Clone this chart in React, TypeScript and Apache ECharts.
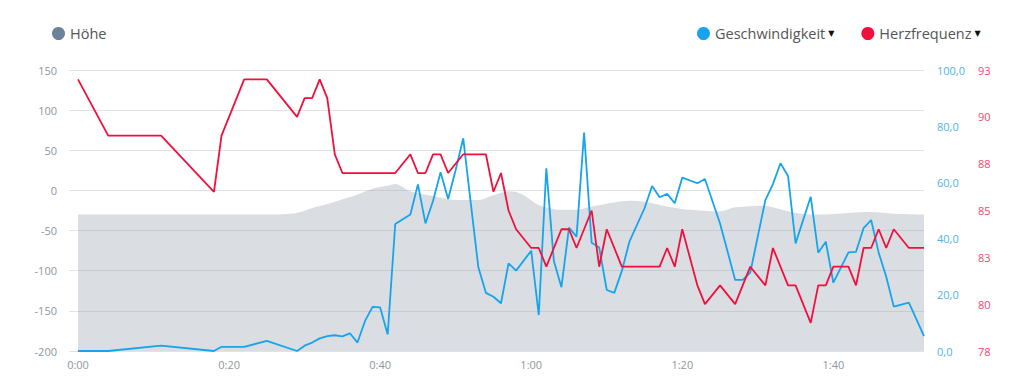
import React, { useEffect, useRef } from "react";
import * as echarts from "echarts";

// Time in minutes
const hoeheMinutes = [0, 25, 29, 31, 33, 35, 37, 39, 41, 42, 44, 47, 50, 53, 55, 57, 58, 59, 61, 64, 66, 68, 71, 73, 75, 78, 80, 85, 87, 91, 92, 95, 98, 102, 105, 108, 112];
const hoeheValues = [-30, -30, -28, -22, -17, -11, -5, 2, 6, 8, -1, -7, -12, -12, -6, -1, -2, -6, -18, -24, -24, -20, -15, -13, -14, -20, -23, -26, -21, -19, -21, -28, -30, -28, -27, -29, -30];

const speedMinutes = [0, 4, 11, 18, 19, 22, 25, 29, 30, 31, 32, 33, 34, 35, 36, 37, 38, 39, 40, 41, 42, 44, 45, 46, 47, 48, 49, 50, 51, 52, 53, 54, 55, 56, 57, 58, 60, 61, 62, 63, 64, 65, 66, 67, 68, 69, 70, 71, 72, 73, 75, 76, 77, 78, 79, 80, 82, 83, 85, 87, 88, 89, 91, 92, 93, 94, 95, 97, 98, 99, 100, 102, 103, 104, 105, 106, 107, 108, 110, 112];
const speedValues = [0, 0, 1.9, 0, 1.5, 1.5, 3.6, 0, 1.9, 3, 4.5, 5.3, 5.6, 5.2, 6.3, 3, 10.7, 15.7, 15.5, 5.9, 45.2, 48.6, 59.3, 45.4, 53.4, 63.6, 54.1, 64.4, 75.7, 52.6, 29.8, 20.7, 19.3, 17, 31.2, 28.6, 35.7, 12.8, 65, 32, 22.7, 43.9, 40.7, 77.7, 38.5, 36.8, 21.7, 20.7, 28.5, 38.9, 50.8, 58.7, 54.7, 55.9, 52.6, 61.7, 59.7, 61.2, 45.4, 25.3, 25.3, 27.9, 53.7, 59.4, 66.8, 62.3, 38.3, 54.9, 35, 38.9, 24.3, 35.1, 35.3, 43.7, 46.6, 35, 26.4, 15.8, 17.2, 5.3];

const hrMinutes = [0, 4, 11, 18, 19, 22, 25, 29, 30, 31, 32, 33, 34, 35, 42, 44, 45, 46, 47, 48, 49, 51, 54, 55, 56, 57, 58, 60, 61, 62, 64, 65, 66, 68, 69, 70, 72, 77, 78, 79, 80, 82, 83, 85, 87, 89, 91, 92, 94, 95, 97, 98, 99, 100, 102, 103, 104, 105, 106, 107, 108, 110, 112];
const hrValues = [92, 89, 89, 86, 89, 92, 92, 90, 91, 91, 92, 91, 88, 87, 87, 88, 87, 87, 88, 88, 87, 88, 88, 86, 87, 85, 84, 83, 83, 82, 84, 84, 83, 85, 82, 84, 82, 82, 83, 82, 84, 81, 80, 81, 80, 82, 81, 83, 81, 81, 79, 81, 81, 82, 82, 81, 83, 83, 84, 83, 84, 83, 83];

const seriesNames = ["Höhe", "Geschwindigkeit", "Herzfrequenz"];

const zip = (xs: number[], ys: number[]) => xs.map((x, i) => [x, ys[i]]);

const fmtTime = (v: number) => {
  const h = Math.floor(v / 60);
  const m = Math.round(v - h * 60);
  return `${h}:${String(m).padStart(2, "0")}`;
};

export default function App() {
  const ref = useRef<HTMLDivElement>(null);
  useEffect(() => {
    if (!ref.current) return;
    const chart = echarts.init(ref.current, null, { renderer: "svg" });
    const font = "Open Sans";
    chart.setOption({
      animation: false,
      textStyle: { fontFamily: font },
      grid: { left: 78, right: 100, top: 70, bottom: 34 },
      legend: [
        {
          data: [seriesNames[0]],
          left: 52,
          top: 26,
          padding: 0,
          icon: "circle",
          itemWidth: 13,
          itemHeight: 13,
          itemGap: 27,
          textStyle: { fontSize: 14.5, color: "#555", fontFamily: font },
        },
        {
          data: [seriesNames[1], seriesNames[2]],
          left: 697,
          top: 26,
          padding: 0,
          icon: "circle",
          itemWidth: 13,
          itemHeight: 13,
          itemGap: 27,
          formatter: (name: string) => `${name}{t|▼}`,
          textStyle: {
            fontSize: 14.5,
            color: "#555",
            fontFamily: font,
            rich: { t: { fontSize: 8, color: "#111", fontFamily: "DejaVu Sans", padding: [0, 0, 0, 3] } },
          },
        },
      ],
      xAxis: {
        type: "value",
        min: 0,
        max: 112,
        interval: 20,
        axisLine: { show: false },
        axisTick: { show: false },
        splitLine: { show: false },
        axisLabel: {
          color: "#8f969c",
          fontSize: 11,
          fontFamily: font,
          margin: 8,
          showMaxLabel: false,
          formatter: (v: number) => fmtTime(v),
        },
      },
      yAxis: [
        {
          type: "value",
          position: "left",
          min: -200,
          max: 150,
          interval: 50,
          axisLine: { show: false },
          axisTick: { show: true, length: 9, lineStyle: { color: "#e3e3e3" } },
          splitLine: { show: true, lineStyle: { color: "#e3e3e3", width: 1 } },
          axisLabel: { color: "#8b96a0", fontSize: 11, fontFamily: font, margin: 21 },
        },
        {
          type: "value",
          position: "right",
          min: 0,
          max: 100,
          interval: 20,
          axisLine: { show: false },
          axisTick: { show: false },
          splitLine: { show: false },
          axisLabel: {
            color: "#4fb4ec",
            fontSize: 11,
            fontFamily: font,
            margin: 13,
            formatter: (v: number) => v.toFixed(1).replace(".", ","),
          },
        },
        {
          type: "value",
          position: "right",
          offset: 41,
          min: 77.5,
          max: 92.5,
          interval: 2.5,
          axisLine: { show: false },
          axisTick: { show: false },
          splitLine: { show: false },
          axisLabel: {
            color: "#f2496b",
            fontSize: 11,
            fontFamily: font,
            margin: 13,
            formatter: (v: number) => v.toFixed(0),
          },
        },
      ],
      series: [
        {
          name: seriesNames[0],
          type: "line",
          yAxisIndex: 0,
          data: zip(hoeheMinutes, hoeheValues),
          symbol: "none",
          smooth: 0.3,
          itemStyle: { color: "#6c8298" },
          lineStyle: { width: 0 },
          areaStyle: { color: "rgba(142,155,171,0.33)", opacity: 1, origin: "start" },
          silent: true,
        },
        {
          name: seriesNames[1],
          type: "line",
          yAxisIndex: 1,
          data: zip(speedMinutes, speedValues),
          symbol: "none",
          itemStyle: { color: "#16a4ec" },
          lineStyle: { width: 1.8, color: "#16a4ec" },
        },
        {
          name: seriesNames[2],
          type: "line",
          yAxisIndex: 2,
          data: zip(hrMinutes, hrValues),
          symbol: "none",
          itemStyle: { color: "#f20f3c" },
          lineStyle: { width: 1.8, color: "#f20f3c" },
        },
      ],
    });
    return () => chart.dispose();
  }, []);
  return (
    <div
      ref={ref}
      style={{ position: "fixed", left: 0, top: 0, width: 1024, height: 385, background: "#fff" }}
    />
  );
}
